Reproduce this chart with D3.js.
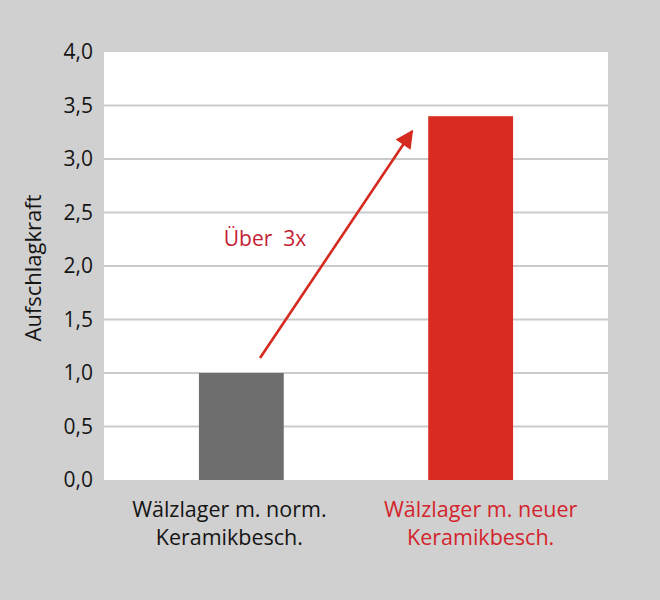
<!DOCTYPE html>
<html>
<head>
<meta charset="utf-8">
<script src="https://cdn.jsdelivr.net/npm/d3@7"></script>
<style>
html, body { margin: 0; padding: 0; background: #d0d0d0; }
svg { display: block; }
text { font-family: "Open Sans", "Noto Sans", sans-serif; font-weight: 500; }
</style>
</head>
<body>
<script>
const categories = ["Wälzlager m. norm. Keramikbesch.", "Wälzlager m. neuer Keramikbesch."];
const labelLines = [["Wälzlager m. norm.", "Keramikbesch."], ["Wälzlager m. neuer", "Keramikbesch."]];
const values = [1.0, 3.4];
const yTicks = [0, 0.5, 1.0, 1.5, 2.0, 2.5, 3.0, 3.5, 4.0];
const yTickLabels = ["0,0", "0,5", "1,0", "1,5", "2,0", "2,5", "3,0", "3,5", "4,0"];
const yTitle = "Aufschlagkraft";
const annotationText = "Über  3x";
const arrowFromValue = 1.14;
const arrowToValue = 3.26;

const W = 660, H = 600;
const margin = { top: 52, right: 52, bottom: 120, left: 104 };
const iw = W - margin.left - margin.right;
const ih = H - margin.top - margin.bottom;

const barColors = ["#6f6e6f", "#d92b1f"];
const labelColors = ["#151515", "#d3242c"];

const svg = d3.select("body").append("svg").attr("width", W).attr("height", H);
svg.append("rect").attr("width", W).attr("height", H).attr("fill", "#d0d0d0");

const g = svg.append("g").attr("transform", `translate(${margin.left},${margin.top})`);

const x = d3.scaleBand().domain(categories).range([0, iw]).paddingInner(0.63).paddingOuter(0.414);
const y = d3.scaleLinear().domain([0, 4]).range([ih, 0]);

g.append("rect").attr("width", iw).attr("height", ih).attr("fill", "#ffffff");

// gridlines
g.selectAll("line.grid").data(yTicks.filter(t => t > 0 && t < 4)).enter().append("line")
  .attr("class", "grid")
  .attr("x1", 0).attr("x2", iw)
  .attr("y1", d => y(d)).attr("y2", d => y(d))
  .attr("stroke", "#cbcbcb").attr("stroke-width", 2.2);

// y axis
const yAxis = d3.axisLeft(y).tickValues(yTicks).tickFormat((d, i) => yTickLabels[i]).tickSize(0).tickPadding(11);
const ya = g.append("g").call(yAxis);
ya.select(".domain").remove();
ya.selectAll("text").attr("font-size", 21).attr("fill", "#151515")
  .attr("font-family", '"Open Sans", sans-serif').attr("font-weight", 500);

// bars
g.selectAll("rect.bar").data(values).enter().append("rect")
  .attr("class", "bar")
  .attr("x", (d, i) => x(categories[i]))
  .attr("y", d => y(d))
  .attr("width", x.bandwidth())
  .attr("height", d => ih - y(d))
  .attr("fill", (d, i) => barColors[i]);

// category labels
const labelOffsets = [-12, 10];
labelLines.forEach((lines, i) => {
  const cx = x(categories[i]) + x.bandwidth() / 2 + labelOffsets[i];
  const t = g.append("text")
    .attr("text-anchor", "middle")
    .attr("font-size", 21.5)
    .attr("fill", labelColors[i]);
  lines.forEach((ln, j) => {
    t.append("tspan").attr("x", cx).attr("y", ih + 37 + j * 28).text(ln);
  });
});

// y title
svg.append("text")
  .attr("transform", `translate(41,${margin.top + y(2) + 2}) rotate(-90)`)
  .attr("text-anchor", "middle")
  .attr("font-size", 22)
  .attr("fill", "#151515")
  .text(yTitle);

// arrow
const defs = svg.append("defs");
defs.append("marker").attr("id", "ah")
  .attr("viewBox", "0 0 10 10").attr("refX", 9).attr("refY", 5)
  .attr("markerUnits", "userSpaceOnUse")
  .attr("markerWidth", 22).attr("markerHeight", 18)
  .attr("orient", "auto")
  .append("path").attr("d", "M0,0 L10,5 L0,10 Z").attr("fill", "#d42a1f");

const ax1 = x(categories[0]) + x.bandwidth() * 0.72;
const ax2 = x(categories[1]) - x.bandwidth() * 0.19;
g.append("line")
  .attr("x1", ax1).attr("y1", y(arrowFromValue))
  .attr("x2", ax2).attr("y2", y(arrowToValue))
  .attr("stroke", "#d42a1f").attr("stroke-width", 2.6)
  .attr("marker-end", "url(#ah)");

// annotation text
g.append("text")
  .attr("x", 161).attr("y", y(2.5) + 33)
  .attr("text-anchor", "middle")
  .attr("font-size", 21)
  .attr("fill", "#c41e36")
  .style("white-space", "pre")
  .text(annotationText);
</script>
</body>
</html>
